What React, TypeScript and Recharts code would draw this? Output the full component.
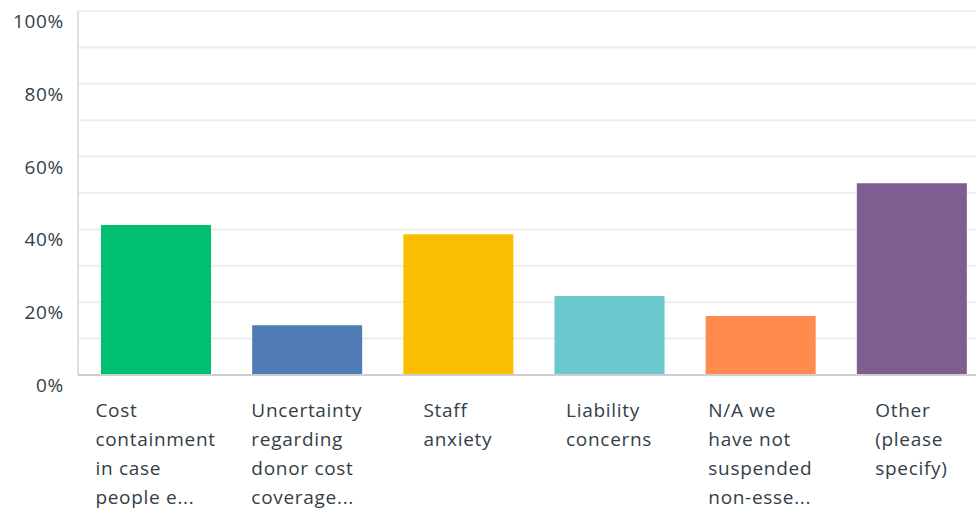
import React from 'react';
import { BarChart, Bar, XAxis, YAxis, CartesianGrid, Cell } from 'recharts';

const categories = [
  'Cost\ncontainment\nin case\npeople e...',
  'Uncertainty\nregarding\ndonor cost\ncoverage...',
  'Staff\nanxiety',
  'Liability\nconcerns',
  'N/A we\nhave not\nsuspended\nnon-esse...',
  'Other\n(please\nspecify)',
];
const values = [41.2, 13.7, 38.7, 21.7, 16.2, 52.7];
const colors = ['#00bf6f', '#507cb6', '#f9be00', '#6bc8cd', '#ff8b4f', '#7d5e90'];
const yTicks = [0, 10, 20, 30, 40, 50, 60, 70, 80, 90, 100];

const data = categories.map((name, i) => ({ name, value: values[i] }));

const FONT = '"Open Sans", sans-serif';
const FONT_SIZE = 19;
const SPACING = 0.7;
const TEXT = '#333e48';

let ctx: CanvasRenderingContext2D | null = null;
const measure = (s: string) => {
  if (!ctx) ctx = document.createElement('canvas').getContext('2d');
  if (!ctx) return s.length * 10;
  ctx.font = `${FONT_SIZE}px "Open Sans"`;
  return ctx.measureText(s).width + SPACING * s.length;
};

const XTick = (props: any) => {
  const { x, y, payload } = props;
  const lines: string[] = String(payload.value).split('\n');
  const w = Math.max(...lines.map(measure));
  return (
    <text
      x={x - w / 2}
      y={y + 34}
      fill={TEXT}
      fontSize={FONT_SIZE}
      fontFamily={FONT}
      letterSpacing={SPACING}
      textAnchor="start"
    >
      {lines.map((l, i) => (
        <tspan key={i} x={x - w / 2} dy={i === 0 ? 0 : 29}>
          {l}
        </tspan>
      ))}
    </text>
  );
};

const YTick = (props: any) => {
  const { x, y, payload } = props;
  if (payload.value % 20 !== 0) return null;
  return (
    <text
      x={x - 6}
      y={y + 17}
      fill={TEXT}
      fontSize={FONT_SIZE}
      fontFamily={FONT}
      letterSpacing={SPACING}
      textAnchor="end"
    >
      {payload.value}%
    </text>
  );
};

export default function App() {
  return (
    <div style={{ position: 'fixed', top: 0, left: 0, width: 976, height: 512, overflow: 'hidden', background: '#fff' }}>
      <BarChart
        width={1000}
        height={512}
        data={data}
        margin={{ top: 11, right: 13, bottom: 0, left: 0 }}
        barCategoryGap={41}
      >
        <CartesianGrid vertical={false} stroke="#ededed" strokeWidth={2} />
        <XAxis
          dataKey="name"
          interval={0}
          height={137}
          padding={{ left: 2, right: 0 }}
          tick={<XTick />}
          tickLine={false}
          axisLine={{ stroke: '#cfcfcf', strokeWidth: 2 }}
        />
        <YAxis
          domain={[0, 100]}
          ticks={yTicks}
          width={78}
          tick={<YTick />}
          tickLine={false}
          axisLine={{ stroke: '#d6d6d6', strokeWidth: 1.5 }}
        />
        <Bar dataKey="value" barSize={110} isAnimationActive={false}>
          {data.map((d, i) => (
            <Cell key={d.name} fill={colors[i]} />
          ))}
        </Bar>
      </BarChart>
    </div>
  );
}
